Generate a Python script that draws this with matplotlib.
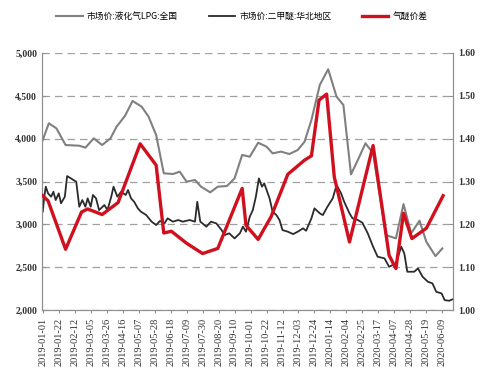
import matplotlib
matplotlib.use("Agg")
import matplotlib.pyplot as plt
import numpy as np
import pandas as pd

plt.rcParams['font.family'] = ['Noto Sans CJK SC', 'DejaVu Sans']

# 市场价:液化气LPG:全国 (元/吨, 左轴)
lpg_dates = ['2019-01-01', '2019-01-09', '2019-01-19', '2019-01-31', '2019-02-18', '2019-02-26',
             '2019-03-09', '2019-03-20', '2019-03-31', '2019-04-08', '2019-04-19', '2019-04-29',
             '2019-05-11', '2019-05-20', '2019-05-30', '2019-06-09', '2019-06-21', '2019-06-30',
             '2019-07-09', '2019-07-20', '2019-07-28', '2019-08-09', '2019-08-19', '2019-08-31',
             '2019-09-10', '2019-09-20', '2019-09-30', '2019-10-11', '2019-10-22', '2019-10-30',
             '2019-11-10', '2019-11-21', '2019-12-02', '2019-12-11', '2019-12-20', '2019-12-31',
             '2020-01-11', '2020-01-22', '2020-01-31', '2020-02-10', '2020-02-20', '2020-02-29',
             '2020-03-10', '2020-03-27', '2020-04-09', '2020-04-19', '2020-04-29', '2020-05-10',
             '2020-05-19', '2020-05-31', '2020-06-09']
lpg_vals = [3985, 4180, 4120, 3926, 3918, 3895,
            4004, 3926, 4004, 4140, 4265, 4440,
            4373, 4257, 4043, 3596, 3588, 3615,
            3498, 3518, 3440, 3374, 3440, 3448,
            3537, 3810, 3790, 3953, 3907, 3829,
            3849, 3821, 3868, 3965, 4218, 4627,
            4810, 4490, 4393, 3584, 3771, 3946,
            3830, 2875, 2837, 3237, 2896, 3043,
            2797, 2630, 2720]

# 市场价:二甲醚:华北地区 (元/吨, 左轴)
dme_dates = ['2019-01-01', '2019-01-03', '2019-01-05', '2019-01-08', '2019-01-12', '2019-01-15',
             '2019-01-18', '2019-01-22', '2019-01-25', '2019-01-30', '2019-02-02', '2019-02-07',
             '2019-02-14', '2019-02-18', '2019-02-22', '2019-02-26', '2019-03-01', '2019-03-05',
             '2019-03-08', '2019-03-12', '2019-03-16', '2019-03-23', '2019-03-27', '2019-04-01',
             '2019-04-04', '2019-04-09', '2019-04-14', '2019-04-20', '2019-04-23', '2019-04-27',
             '2019-05-01', '2019-05-06', '2019-05-10', '2019-05-17', '2019-05-24', '2019-05-30',
             '2019-06-04', '2019-06-10', '2019-06-14', '2019-06-21', '2019-06-28', '2019-07-04',
             '2019-07-13', '2019-07-20', '2019-07-23', '2019-07-27', '2019-08-04', '2019-08-10',
             '2019-08-17', '2019-08-24', '2019-08-28', '2019-09-03', '2019-09-10', '2019-09-17',
             '2019-09-21', '2019-09-25', '2019-09-30', '2019-10-04', '2019-10-08', '2019-10-12',
             '2019-10-16', '2019-10-19', '2019-10-26', '2019-10-30', '2019-11-04', '2019-11-08',
             '2019-11-12', '2019-11-19', '2019-11-26', '2019-12-02', '2019-12-09', '2019-12-13',
             '2019-12-20', '2019-12-24', '2019-12-31', '2020-01-04', '2020-01-10', '2020-01-17',
             '2020-01-22', '2020-01-28', '2020-02-01', '2020-02-08', '2020-02-12', '2020-02-19',
             '2020-02-25', '2020-03-03', '2020-03-10', '2020-03-16', '2020-03-25', '2020-03-31',
             '2020-04-09', '2020-04-16', '2020-04-20', '2020-04-24', '2020-05-03', '2020-05-08',
             '2020-05-14', '2020-05-21', '2020-05-27', '2020-06-01', '2020-06-08', '2020-06-12',
             '2020-06-18', '2020-06-22']
dme_vals = [3150, 3323, 3440, 3362, 3323, 3381,
            3284, 3362, 3246, 3323, 3564, 3537,
            3498, 3206, 3284, 3206, 3304, 3206,
            3343, 3304, 3167, 3226, 3167, 3323,
            3440, 3323, 3381, 3343, 3401, 3304,
            3265, 3187, 3148, 3109, 3032, 2993,
            3040, 3012, 3071, 3032, 3051, 3032,
            3051, 3032, 3264, 3032, 2974, 3032,
            3012, 2934, 2876, 2896, 2837, 2896,
            2974, 2915, 3090, 3167, 3323, 3537,
            3440, 3479, 3304, 3148, 3109, 3051,
            2934, 2915, 2887, 2915, 2954, 2926,
            3071, 3187, 3129, 3109, 3206, 3304,
            3459, 3362, 3265, 3129, 3071, 3051,
            3019, 2896, 2740, 2623, 2604, 2506,
            2545, 2740, 2662, 2448, 2448, 2487,
            2390, 2331, 2312, 2214, 2195, 2117,
            2109, 2125]

# 气醚价差 (右轴)
spread_dates = ['2019-01-01', '2019-01-08', '2019-01-31', '2019-02-21', '2019-03-01', '2019-03-20',
                '2019-04-10', '2019-05-09', '2019-05-30', '2019-06-09', '2019-06-19', '2019-07-09',
                '2019-07-30', '2019-08-19', '2019-09-20', '2019-09-25', '2019-10-11', '2019-10-28',
                '2019-11-19', '2019-12-11', '2019-12-20', '2019-12-30', '2020-01-09', '2020-01-19',
                '2020-02-08', '2020-03-10', '2020-03-31', '2020-04-09', '2020-04-19', '2020-04-30',
                '2020-05-19', '2020-06-10']
spread_vals = [1.267, 1.255, 1.142, 1.229, 1.236, 1.223,
               1.251, 1.388, 1.338, 1.180, 1.184, 1.156,
               1.132, 1.144, 1.284, 1.198, 1.165, 1.218,
               1.317, 1.350, 1.360, 1.490, 1.504, 1.311,
               1.159, 1.384, 1.128, 1.097, 1.226, 1.167,
               1.191, 1.267]

labels = ['市场价:液化气LPG:全国', '市场价:二甲醚:华北地区', '气醚价差']

fig = plt.figure(figsize=(4.94, 3.81), dpi=100)
ax = fig.add_axes([0.085, 0.186, 0.832, 0.675])
ax2 = ax.twinx()

l1, = ax.plot(pd.to_datetime(lpg_dates), lpg_vals, color='#808080', lw=1.5, zorder=2)
l2, = ax.plot(pd.to_datetime(dme_dates), dme_vals, color='#2b2b2b', lw=1.3, zorder=3)
l3, = ax2.plot(pd.to_datetime(spread_dates), spread_vals, color='#d0101e', lw=2.4, zorder=4)

ax.set_ylim(2000, 5000)
ax2.set_ylim(1.0, 1.6)
ax.set_xlim(pd.Timestamp('2018-12-31'), pd.Timestamp('2020-06-23'))

ax.set_yticks(np.arange(2000, 5001, 500))
ax.set_yticklabels([f'{v:,}' for v in range(2000, 5001, 500)])
ax2.set_yticks(np.arange(1.0, 1.61, 0.1))
ax2.set_yticklabels([f'{v:.2f}' for v in np.arange(1.0, 1.61, 0.1)])

# 每21天一个刻度
ticks = pd.date_range('2019-01-01', periods=26, freq='21D')
ax.set_xticks(ticks)
ax.set_xticklabels([t.strftime('%Y-%m-%d') for t in ticks], rotation=90,
                   family='Liberation Serif', fontsize=7.5)

for lab in ax.get_yticklabels() + ax2.get_yticklabels():
    lab.set_family('Liberation Serif')
    lab.set_fontsize(7)
    lab.set_fontweight('bold')

ax.grid(axis='y', color='#a0a0a0', linestyle=(0, (6, 4)), linewidth=0.9)
ax.set_axisbelow(True)

for a in (ax, ax2):
    a.spines['top'].set_visible(False)
    for s in ('left', 'right', 'bottom'):
        a.spines[s].set_color('#909090')
    a.tick_params(colors='#909090', labelcolor='#333333', length=3, width=0.8)
ax.tick_params(axis='y', direction='in')
ax2.tick_params(axis='y', direction='in')
ax.tick_params(axis='x', direction='out', length=2)

fig.legend([l1, l2, l3], labels, loc='upper center', bbox_to_anchor=(0.49, 0.99), ncol=3,
           frameon=False, fontsize=6.3, handlelength=3, handletextpad=0.5, columnspacing=3.5)

fig.savefig('out.png', dpi=100)
